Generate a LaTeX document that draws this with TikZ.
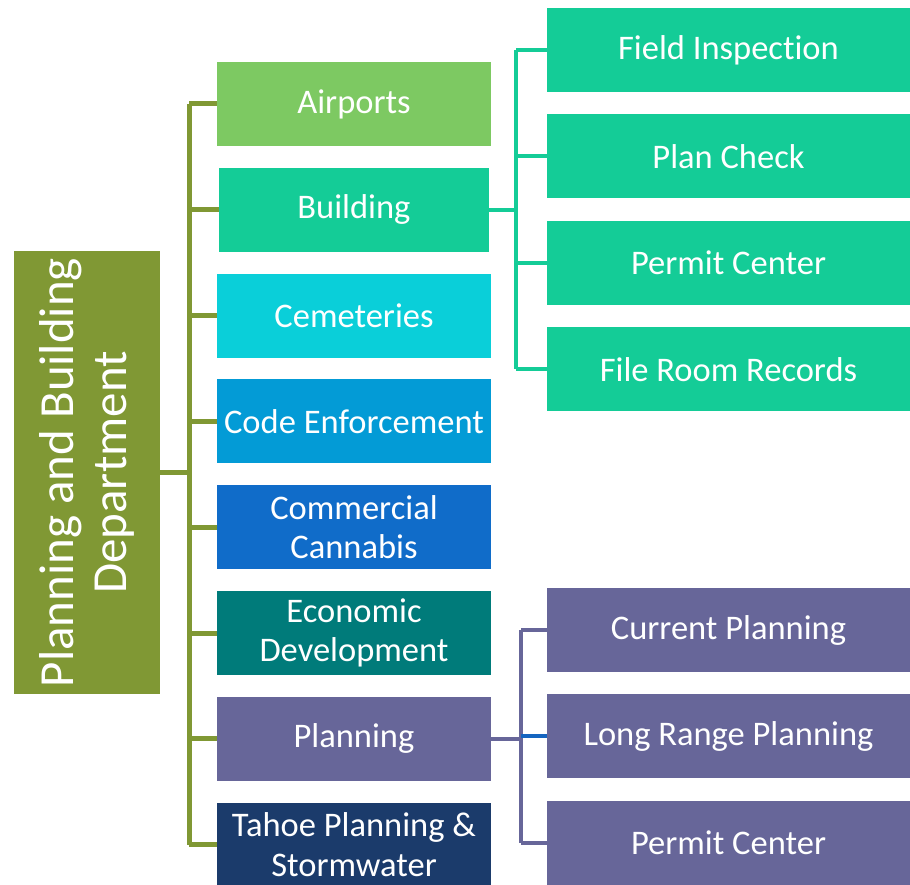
\documentclass[tikz,border=0pt]{standalone}
\usepackage{fontspec}
\setmainfont[Ligatures=NoCommon]{Carlito}
\usepackage{xcolor}
\usetikzlibrary{positioning}

\definecolor{deptgreen}{RGB}{128,152,52}
\definecolor{airgreen}{RGB}{125,201,98}
\definecolor{buildteal}{RGB}{20,204,151}
\definecolor{cemcyan}{RGB}{10,207,217}
\definecolor{codeblue}{RGB}{3,155,214}
\definecolor{cannablue}{RGB}{16,108,201}
\definecolor{econteal}{RGB}{0,123,122}
\definecolor{planpurple}{RGB}{103,102,153}
\definecolor{tahoenavy}{RGB}{27,59,107}
\definecolor{linkblue}{RGB}{21,101,192}

\begin{document}
\begin{tikzpicture}[x=1pt,y=-1pt,
	unit/.style={fill=#1, text=white, inner sep=0pt, align=center, minimum width=274pt, minimum height=84pt, font=\fontsize{34.5}{39.5}\selectfont},
	subunit/.style={fill=#1, text=white, inner sep=0pt, align=center, minimum width=363pt, minimum height=84pt, font=\fontsize{34.5}{39.5}\selectfont},
	deptlink/.style={draw=deptgreen, line width=5pt},
	sublink/.style={draw=#1, line width=4pt}]
	\useasboundingbox (0,0) rectangle (910,885);

	% department
	\node[fill=deptgreen, text=white, rotate=90, inner sep=0pt, align=center, minimum width=443pt, minimum height=146pt, font=\fontsize{49}{53}\selectfont] (dept) at (87,472.5) {Planning and Building\\Department};

	% divisions
	\node[unit=airgreen] (airports) at (354,104) {Airports};
	\node[unit=buildteal, minimum width=270pt, below=21.4pt of airports] (building) {Building};
	\node[unit=cemcyan, below=21.4pt of building] (cemeteries) {Cemeteries};
	\node[unit=codeblue, below=21.4pt of cemeteries] (code) {Code Enforcement};
	\node[unit=cannablue, below=21.4pt of code] (cannabis) {Commercial\\Cannabis};
	\node[unit=econteal, below=21.4pt of cannabis] (econ) {Economic\\Development};
	\node[unit=planpurple, below=21.4pt of econ] (planning) {Planning};
	\node[unit=tahoenavy, below=21.4pt of planning] (tahoe) {Tahoe Planning \&\\Stormwater};

	% building sections
	\node[subunit=buildteal] (field) at (728.5,50) {Field Inspection};
	\node[subunit=buildteal, below=22pt of field] (plancheck) {Plan Check};
	\node[subunit=buildteal, below=22pt of plancheck] (bpermit) {Permit Center};
	\node[subunit=buildteal, below=22pt of bpermit] (files) {File Room Records};

	% planning sections
	\node[subunit=planpurple] (current) at (728.5,630) {Current Planning};
	\node[subunit=planpurple, below=22pt of current] (longrange) {Long Range Planning};
	\node[subunit=planpurple, below=22pt of longrange] (ppermit) {Permit Center};

	% connectors
	\draw[deptlink] (dept.south) -- ++(29,0) coordinate (dspine);
	\draw[deptlink] (airports.west -| dspine) -- (tahoe.west -| dspine);
	\foreach \n in {airports,building,cemeteries,code,cannabis,econ,planning,tahoe}
		\draw[deptlink] (\n.west -| dspine) -- (\n.west);

	\draw[sublink=buildteal] (building.east) -- ++(27,0) coordinate (bspine);
	\draw[sublink=buildteal] (field.west -| bspine) -- (files.west -| bspine);
	\foreach \n in {field,plancheck,bpermit,files}
		\draw[sublink=buildteal] (\n.west -| bspine) -- (\n.west);

	\draw[sublink=planpurple] (planning.east) -- ++(30,0) coordinate (pspine);
	\draw[sublink=planpurple] (current.west -| pspine) -- (ppermit.west -| pspine);
	\draw[sublink=planpurple] (current.west -| pspine) -- (current.west);
	\draw[sublink=linkblue] (longrange.west -| pspine) -- (longrange.west);
	\draw[sublink=planpurple] (ppermit.west -| pspine) -- (ppermit.west);
\end{tikzpicture}
\end{document}
